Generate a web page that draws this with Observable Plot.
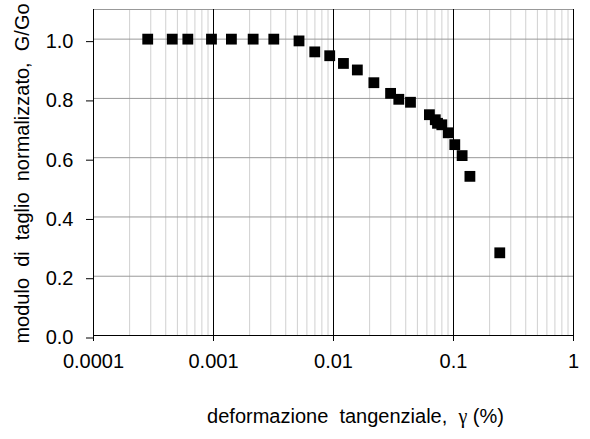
<!DOCTYPE html>
<html>
<head>
<meta charset="utf-8">
<script src="https://cdn.jsdelivr.net/npm/d3@7"></script>
<script src="https://cdn.jsdelivr.net/npm/@observablehq/plot@0.6"></script>
<style>
  html, body { margin: 0; padding: 0; background: #fff; }
</style>
</head>
<body>
<div id="chart"></div>
<script>
// Shear strain (%) and normalized shear modulus G/Go
const strain = [0.000283, 0.000453, 0.000611, 0.000962, 0.00141, 0.00214, 0.00318,
  0.00516, 0.00698, 0.0093, 0.0121, 0.0158, 0.0217, 0.0299, 0.035, 0.0438,
  0.063, 0.0705, 0.0736, 0.0799, 0.0904, 0.1025, 0.118, 0.137, 0.243];
const ratio = [1.0, 1.0, 1.0, 1.0, 1.0, 1.0, 1.0,
  0.994, 0.957, 0.944, 0.918, 0.896, 0.853, 0.817, 0.797, 0.787,
  0.745, 0.728, 0.716, 0.711, 0.684, 0.644, 0.607, 0.537, 0.279];

const xTicks = [0.0001, 0.001, 0.01, 0.1, 1];
const xTickLabels = ["0.0001", "0.001", "0.01", "0.1", "1"];
const yTicks = [0, 0.2, 0.4, 0.6, 0.8, 1.0];
const yTickLabels = ["0.0", "0.2", "0.4", "0.6", "0.8", "1.0"];
const xTitle = "deformazione  tangenziale,  \u03b3 (%)";
const yTitle = "modulo  di  taglio  normalizzato,  G/Go";

const points = strain.map((s, i) => ({strain: s, ratio: ratio[i]}));
const minor = [];
for (let k = -4; k < 0; k++) for (let m = 2; m <= 9; m++) minor.push(m * Math.pow(10, k));
const majorV = xTicks.slice(1);
const gridH = [0.2, 0.4, 0.6, 0.8, 1.0, 1.1];

const xLabelOf = (d) => {
  let best = 0;
  xTicks.forEach((t, i) => { if (Math.abs(Math.log10(t) - Math.log10(d)) < Math.abs(Math.log10(xTicks[best]) - Math.log10(d))) best = i; });
  return xTickLabels[best];
};
const yLabelOf = (d) => {
  let best = 0;
  yTicks.forEach((t, i) => { if (Math.abs(t - d) < Math.abs(yTicks[best] - d)) best = i; });
  return yTickLabels[best];
};

const chart = Plot.plot({
  width: 590,
  height: 439,
  marginLeft: 93,
  marginRight: 17,
  marginTop: 9,
  marginBottom: 104,
  style: {fontFamily: "'Liberation Sans', Arial, sans-serif", fontSize: "20px", color: "#000", background: "#fff"},
  x: {type: "log", domain: [0.0001, 1]},
  y: {domain: [0, 1.1]},
  marks: [
    Plot.ruleX(minor, {stroke: "#d0d0d0", strokeWidth: 1, y1: 0, y2: 1.1}),
    Plot.ruleY(gridH, {stroke: "#999", strokeWidth: 1, x1: 0.0001, x2: 1}),
    Plot.ruleX(majorV, {stroke: "#000", strokeWidth: 1, y1: 0, y2: 1.1}),
    Plot.ruleX([0.0001], {stroke: "#000", strokeWidth: 1, y1: 0, y2: 1.1}),
    Plot.ruleY([0], {stroke: "#000", strokeWidth: 1, x1: 0.0001, x2: 1}),
    Plot.dot(points, {x: "strain", y: "ratio", symbol: "square", r: 6.1, fill: "#000", stroke: "none"}),
    Plot.axisX({ticks: xTicks, tickFormat: xLabelOf, tickSize: 6, tickPadding: 12, fontSize: 20, label: null, stroke: "#000", fill: "#000"}),
    Plot.axisY({ticks: yTicks, tickFormat: yLabelOf, tickSize: 7, tickPadding: 13, fontSize: 20, dy: 2.5, label: null, stroke: "#000", fill: "#000"}),
    Plot.text([xTitle], {text: d => d, frameAnchor: "bottom", dx: 22, dy: 80.6, lineAnchor: "middle", textAnchor: "middle", fontSize: 20, fill: "#000"}),
    Plot.text([yTitle], {text: d => d, frameAnchor: "left", dx: -71.4, dy: 1, rotate: -90, lineAnchor: "middle", textAnchor: "middle", fontSize: 20, fill: "#000"})
  ]
});
// Render the Greek gamma in a serif face, as in the original
d3.select(chart).selectAll("text").each(function () {
  const t = this.textContent;
  if (t === xTitle) {
    const parts = t.split("\u03b3");
    const sel = d3.select(this);
    sel.text(null);
    sel.append("tspan").text(parts[0]);
    sel.append("tspan").attr("font-family", "'Liberation Serif', 'DejaVu Serif', serif").text("\u03b3");
    sel.append("tspan").text(parts[1]);
  }
});
document.getElementById("chart").appendChild(chart);
</script>
</body>
</html>
